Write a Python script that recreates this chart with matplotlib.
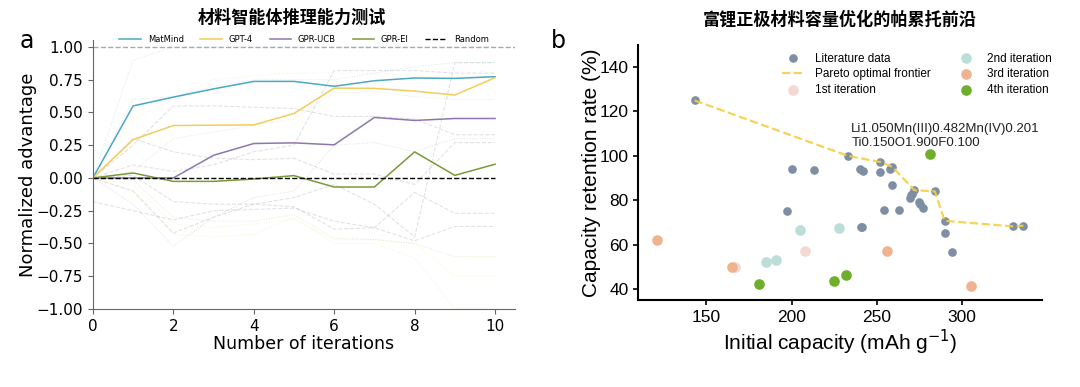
import numpy as np
import matplotlib.pyplot as plt

plt.rcParams['font.family'] = ['DejaVu Sans', 'Noto Sans CJK SC']

# ---- panel a data ----
iterations = list(range(11))
matmind = [0, 0.55, 0.617, 0.68, 0.737, 0.737, 0.70, 0.742, 0.763, 0.76, 0.773]
gpt4 = [0, 0.293, 0.40, 0.403, 0.405, 0.492, 0.686, 0.684, 0.663, 0.633, 0.765]
gpr_ucb = [0, 0.0, 0.0, 0.173, 0.263, 0.268, 0.253, 0.462, 0.439, 0.454, 0.454]
gpr_ei = [0, 0.038, -0.026, -0.026, -0.008, 0.018, -0.069, -0.069, 0.199, 0.02, 0.105]

# faint individual trials (gray = random runs, coloured = method runs)
bg_random = [
    [0, 0.02, -0.18, -0.20, -0.20, -0.22, -0.39, -0.38, -0.11, -0.27, -0.27],
    [-0.18, -0.25, -0.32, -0.25, -0.24, -0.23, -0.33, -0.38, -0.48, -0.37, -0.37],
    [0, 0.25, 0.55, 0.55, 0.54, 0.53, 0.47, 0.47, 0.45, 0.33, 0.33],
    [0, 0.30, 0.20, 0.15, 0.14, 0.15, 0.03, 0.03, -0.05, 0.27, 0.27],
    [0, 0.10, 0.05, 0.10, 0.20, 0.25, 0.82, 0.82, 0.82, 0.80, 0.80],
    [0, -0.10, -0.42, -0.30, -0.20, -0.15, -0.05, -0.20, -0.45, 0.88, 0.88],
]
bg_matmind = [
    [0, 0.90, 1.00, 1.00, 1.00, 1.00, 1.00, 1.00, 1.00, 1.00, 1.00],
    [0, 0.60, 0.62, 0.70, 0.75, 0.75, 0.75, 0.80, 0.85, 0.88, 0.88],
]
bg_gpt4 = [
    [0, 0.45, 0.60, 0.75, 0.78, 0.80, 0.80, 0.80, 0.78, 0.78, 0.78],
    [0, -0.10, -0.43, -0.45, -0.43, -0.30, -0.50, -0.50, -0.61, -1.00, -1.00],
    [0, -0.05, -0.35, -0.38, -0.35, -0.32, -0.47, -0.47, -0.50, -0.75, -0.75],
]
bg_ucb = [
    [0, -0.20, -0.52, -0.30, -0.15, -0.10, 0.25, 0.27, 0.20, 0.30, 0.30],
]
bg_ei = [
    [0, -0.02, -0.30, -0.33, -0.33, -0.28, -0.46, -0.47, -0.50, -0.60, -0.60],
    [0, 0.05, 0.30, 0.35, 0.40, 0.45, 0.65, 0.66, 0.62, 0.60, 0.60],
]

# ---- panel b data ----
lit_x = [143, 200, 213, 233, 240, 242, 252, 252, 257.6, 259, 259, 197, 240.4, 241.3,
         254, 262.8, 269.3, 269.9, 270.7, 274.8, 275.2, 277.1, 272, 284, 289.8,
         289.8, 294, 330, 336]
lit_y = [125, 94, 93.6, 100, 94.2, 93, 97.2, 92.5, 93.9, 95.1, 87, 75.2, 68, 68,
         75.5, 75.5, 80.9, 82.2, 83, 79.4, 78.5, 76.7, 84.5, 84, 70.7,
         65, 56.6, 68.2, 68.5]
pareto_x = [143, 233, 252, 259, 272, 284, 289.8, 330, 336]
pareto_y = [125, 100, 97.2, 95.1, 84.5, 84, 70.7, 68.2, 68.5]
it1_x = [208, 167]
it1_y = [57.2, 49.7]
it2_x = [185, 191, 205, 228]
it2_y = [52, 53, 66.5, 67.6]
it3_x = [121, 165, 256, 305]
it3_y = [62, 49.7, 57.2, 41.3]
it4_x = [181, 225, 232, 281.4]
it4_y = [42.1, 43.7, 46.4, 101]

fig = plt.figure(figsize=(10.8, 3.87), dpi=100)

# ---------------- panel a ----------------
ax = fig.add_axes([0.086, 0.2016, 0.391, 0.694])
for run in bg_random:
    ax.plot(iterations, run, ls='--', lw=0.8, color='#9a9a9a', alpha=0.28)
for runs, c in [(bg_matmind, '#4aa8c0'), (bg_gpt4, '#f2cc5c'),
                (bg_ucb, '#8c78b0'), (bg_ei, '#9ab84a')]:
    for run in runs:
        ax.plot(iterations, run, ls=':', lw=0.7, color=c, alpha=0.25)

ax.axhline(1.0, ls='--', lw=1, color='#aaaaaa')
ax.plot(iterations, matmind, color='#4aa8c0', lw=1.1, label='MatMind')
ax.plot(iterations, gpt4, color='#f2cc5c', lw=1.1, label='GPT-4')
ax.plot(iterations, gpr_ucb, color='#8c78b0', lw=1.1, label='GPR-UCB')
ax.plot(iterations, gpr_ei, color='#7a9a3a', lw=1.1, label='GPR-EI')
ax.plot(iterations, [0] * len(iterations), color='black', ls='--', lw=1, label='Random')

ax.set_xlim(0, 10.5)
ax.set_ylim(-1, 1.05)
ax.set_xticks([0, 2, 4, 6, 8, 10])
ax.set_yticks([-1, -0.75, -0.5, -0.25, 0, 0.25, 0.5, 0.75, 1.0])
ax.set_yticklabels(['−1.00', '−0.75', '−0.50', '−0.25', '0.00', '0.25', '0.50', '0.75', '1.00'])
ax.tick_params(labelsize=11, color='#666666')
for s in ['top', 'right']:
    ax.spines[s].set_visible(False)
for s in ['left', 'bottom']:
    ax.spines[s].set_color('#666666')
ax.set_xlabel('Number of iterations', fontsize=12.5, labelpad=1)
ax.set_ylabel('Normalized advantage', fontsize=13, labelpad=0)
ax.legend(loc='lower center', bbox_to_anchor=(0.5, 0.975), ncol=5, frameon=False,
          fontsize=6, handlelength=2.6, columnspacing=2.0, borderaxespad=0)

fig.text(0.27, 0.955, '材料智能体推理能力测试', ha='center', va='center', fontsize=12.3,
         family=['Noto Sans CJK SC'], weight='heavy')
fig.text(0.018, 0.895, 'a', fontsize=17, va='center')

# ---------------- panel b ----------------
arial = ['Liberation Sans', 'DejaVu Sans']
bx = fig.add_axes([0.591, 0.2248, 0.374, 0.659])
bx.scatter(lit_x, lit_y, s=27, color='#7e8fa3', label='Literature data', zorder=3)
bx.plot(pareto_x, pareto_y, ls='--', lw=1.6, color='#f5cf45', alpha=0.9,
        label='Pareto optimal frontier', zorder=4)
bx.scatter(it1_x, it1_y, s=44, color='#f4d8d4', label='1st iteration', zorder=3)
bx.scatter(it2_x, it2_y, s=44, color='#bcded8', label='2nd iteration', zorder=3)
bx.scatter(it3_x, it3_y, s=44, color='#efb48f', label='3rd iteration', zorder=3)
bx.scatter(it4_x, it4_y, s=44, color='#6fae2a', label='4th iteration', zorder=3)
bx.text(235, 104.5, 'Li1.050Mn(III)0.482Mn(IV)0.201\nTi0.150O1.900F0.100',
        fontsize=9.5, color='#222222', linespacing=1.2, family=arial)

bx.set_xlim(110, 347)
bx.set_ylim(35, 150)
bx.set_xticks([150, 200, 250, 300])
bx.set_yticks([40, 60, 80, 100, 120, 140])
bx.tick_params(labelsize=12.5, width=1.2)
for lab in bx.get_xticklabels() + bx.get_yticklabels():
    lab.set_family(arial)
for s in ['top', 'right']:
    bx.spines[s].set_visible(False)
for s in ['left', 'bottom']:
    bx.spines[s].set_linewidth(1.5)
bx.set_xlabel('Initial capacity (mAh g$^{-1}$)', fontsize=15, labelpad=2, family=arial)
bx.set_ylabel('Capacity retention rate (%)', fontsize=15, labelpad=-1, family=arial)
bx.legend(loc='upper right', bbox_to_anchor=(1.05, 1.012), ncol=2, frameon=False,
          prop={'family': arial, 'size': 8.5}, handlelength=2.0, columnspacing=2.0,
          labelspacing=0.3)

fig.text(0.778, 0.948, '富锂正极材料容量优化的帕累托前沿', ha='center', va='center',
         fontsize=12.3, family=['Noto Sans CJK SC'], weight='heavy')
fig.text(0.51, 0.895, 'b', fontsize=17, va='center')

fig.savefig('out.png', dpi=100)
